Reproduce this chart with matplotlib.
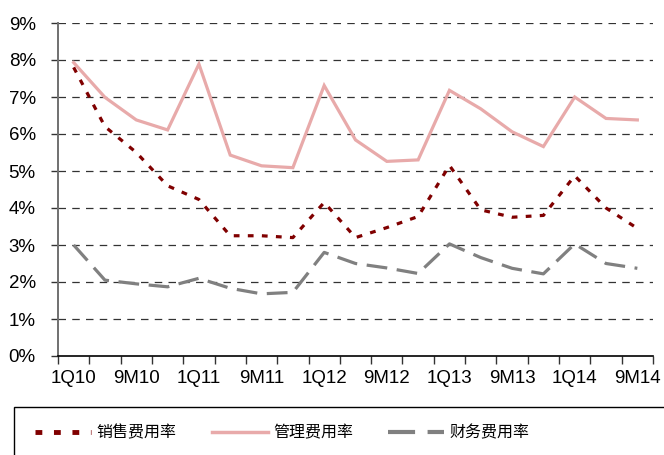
import numpy as np
import matplotlib
matplotlib.use("Agg")
import matplotlib.pyplot as plt
from matplotlib.patches import Rectangle
from matplotlib.lines import Line2D
from matplotlib import font_manager

# periods (cumulative quarters), every other one labelled on the axis
periods = ["1Q10", "1H10", "9M10", "FY10",
           "1Q11", "1H11", "9M11", "FY11",
           "1Q12", "1H12", "9M12", "FY12",
           "1Q13", "1H13", "9M13", "FY13",
           "1Q14", "1H14", "9M14"]

# expense ratios, %
selling = [7.8, 6.2, 5.5, 4.6, 4.23, 3.25, 3.25, 3.2, 4.15, 3.2,
           3.47, 3.77, 5.15, 3.95, 3.75, 3.8, 4.87, 4.0, 3.45]
admin = [7.93, 6.99, 6.38, 6.11, 7.89, 5.43, 5.14, 5.09, 7.31, 5.84,
         5.26, 5.30, 7.18, 6.68, 6.06, 5.66, 7.0, 6.42, 6.38]
finance = [3.0, 2.05, 1.95, 1.87, 2.1, 1.83, 1.68, 1.72, 2.8, 2.5,
           2.38, 2.23, 3.03, 2.66, 2.37, 2.22, 3.03, 2.5, 2.37]

series_names = ["销售费用率", "管理费用率", "财务费用率"]

installed = {f.name for f in font_manager.fontManager.ttflist}
num_font = "Liberation Sans Narrow" if "Liberation Sans Narrow" in installed else "Liberation Sans"
plt.rcParams["font.family"] = [num_font, "Noto Sans CJK SC", "DejaVu Sans"]

fig = plt.figure(figsize=(6.64, 4.55), dpi=100)
ax = fig.add_axes([58 / 664, 1 - 356 / 455, 595 / 664, 333 / 455])

x = np.arange(len(periods))
ax.plot(x, admin, color="#E8AAAA", lw=2.3, solid_joinstyle="miter", zorder=3)
ax.plot(x, selling, color="#800000", lw=2.3, dashes=(1.8, 2.6), zorder=4)
ax.plot(x, finance, color="#808080", lw=2.3, dashes=(6.5, 3.0), zorder=3)

ax.set_xlim(-0.5, len(periods) - 0.5)
ax.set_ylim(0, 9)

for v in range(1, 10):
    ax.axhline(v, color="#333333", lw=0.9, dashes=(6, 5), zorder=1)

ax.set_yticks(range(0, 10))
ax.set_yticklabels([f"{v}%" for v in range(0, 10)], fontsize=13.5)

ax.set_xticks(np.arange(-0.5, len(periods), 1))
ax.set_xticklabels([])
ax.set_xticks(x[::2], minor=True)
ax.set_xticklabels(periods[::2], minor=True, fontsize=13.5)
ax.tick_params(axis="x", which="major", length=6, width=1, color="#333333")
ax.tick_params(axis="x", which="minor", length=0, pad=10)
ax.tick_params(axis="y", length=5, width=1, color="#333333", pad=11)

for s in ["top", "right"]:
    ax.spines[s].set_visible(False)
ax.spines["left"].set_color("#707070")
ax.spines["left"].set_linewidth(1.4)
ax.spines["bottom"].set_color("black")
ax.spines["bottom"].set_linewidth(1.2)

# legend box runs off the figure edge
fig.patches.append(Rectangle((14 / 664, -0.2), 1.0, 0.2 + 1 - 407 / 455,
                             transform=fig.transFigure, fill=False,
                             ec="black", lw=1.0))

handles = [
    Line2D([], [], color="#800000", lw=3.5, dashes=(1.4, 2.4)),
    Line2D([], [], color="#E8AAAA", lw=2.5),
    Line2D([], [], color="#808080", lw=3.0, dashes=(6.5, 3.0)),
]
fig.legend(handles, series_names, loc="center left",
           bbox_to_anchor=(35 / 664, 1 - 433 / 455), ncol=3, frameon=False,
           prop={"family": ["Noto Sans CJK SC"], "size": 11.5},
           handlelength=3.5, handletextpad=0.35, columnspacing=2.2,
           borderpad=0, borderaxespad=0)

fig.savefig("out.png", dpi=100)
